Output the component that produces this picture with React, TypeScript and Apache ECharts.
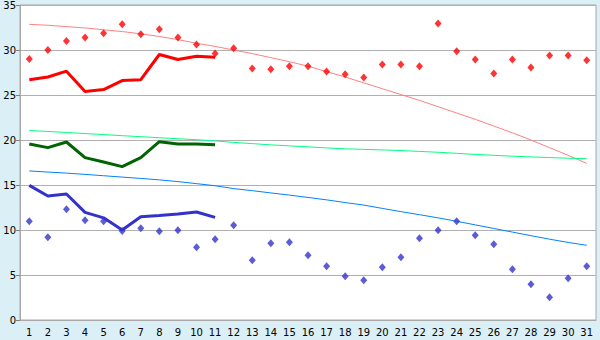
import React, { useEffect, useRef } from "react";
import * as echarts from "echarts";

const days = Array.from({ length: 31 }, (_, i) => String(i + 1));

const maxPoints = [29.0, 30.0, 31.0, 31.4, 31.85, 32.85, 31.75, 32.3, 31.4, 30.6, 29.6, 30.2, 27.95, 27.85, 28.2, 28.2, 27.6, 27.3, 26.95, 28.4, 28.4, 28.2, 32.95, 29.85, 28.95, 27.4, 28.95, 28.05, 29.4, 29.4, 28.85];
const maxAvg = [26.7, 27.0, 27.65, 25.4, 25.6, 26.6, 26.7, 29.5, 28.95, 29.3, 29.2];
const maxTrend = [32.85, 32.75, 32.6, 32.45, 32.25, 32.05, 31.8, 31.5, 31.15, 30.75, 30.4, 30.0, 29.6, 29.15, 28.7, 28.2, 27.6, 27.0, 26.35, 25.7, 25.05, 24.4, 23.7, 23.0, 22.3, 21.55, 20.8, 20.0, 19.15, 18.3, 17.4];

const meanAvg = [19.56, 19.15, 19.78, 18.04, 17.56, 17.04, 18.04, 19.81, 19.56, 19.56, 19.48];
const meanTrend = [21.05, 20.95, 20.83, 20.72, 20.6, 20.48, 20.37, 20.25, 20.14, 20.03, 19.9, 19.73, 19.6, 19.46, 19.35, 19.24, 19.12, 19.02, 18.96, 18.9, 18.83, 18.73, 18.64, 18.52, 18.4, 18.3, 18.2, 18.12, 18.05, 17.98, 17.92];

const minPoints = [10.96, 9.19, 12.3, 11.07, 10.96, 9.9, 10.2, 9.85, 9.96, 8.07, 8.96, 10.52, 6.63, 8.52, 8.63, 7.19, 5.96, 4.85, 4.41, 5.85, 6.96, 9.07, 9.96, 10.96, 9.41, 8.41, 5.63, 3.96, 2.52, 4.63, 5.96];
const minAvg = [14.96, 13.78, 14.0, 11.96, 11.35, 10.0, 11.48, 11.6, 11.78, 12.0, 11.4];
const minTrend = [16.56, 16.44, 16.32, 16.18, 16.03, 15.88, 15.73, 15.57, 15.38, 15.15, 14.92, 14.6, 14.37, 14.12, 13.88, 13.62, 13.35, 13.05, 12.77, 12.4, 12.04, 11.7, 11.35, 10.97, 10.57, 10.17, 9.77, 9.37, 8.98, 8.62, 8.3];

const yTicks = { min: 0, max: 35, interval: 5 };

export default function App() {
  const ref = useRef<HTMLDivElement>(null);
  useEffect(() => {
    if (!ref.current) return;
    const chart = echarts.init(ref.current, null, { renderer: "svg" });
    const line = (data: number[], color: string, width: number, z: number) => ({
      type: "line",
      data,
      symbol: "none",
      lineStyle: { color, width },
      itemStyle: { color },
      z,
    });
    const scatter = (data: number[], color: string) => ({
      type: "scatter",
      data,
      symbol: "diamond",
      symbolSize: [7, 8],
      itemStyle: { color },
      z: 5,
    });
    chart.setOption({
      animation: false,
      backgroundColor: "#DAEFF6",
      grid: {
        left: 20,
        right: 4,
        top: 5,
        bottom: 20,
        show: true,
        backgroundColor: "#FFFFFF",
        borderColor: "#A8A8A8",
        borderWidth: 1,
      },
      xAxis: {
        type: "category",
        data: days,
        boundaryGap: true,
        axisLine: { lineStyle: { color: "#A8A8A8" } },
        axisTick: { alignWithLabel: true, length: 5, lineStyle: { color: "#000" } },
        axisLabel: { color: "#000", fontFamily: "DejaVu Sans", fontSize: 10, margin: 7, interval: 0 },
        splitLine: { show: false },
      },
      yAxis: {
        type: "value",
        min: yTicks.min,
        max: yTicks.max,
        interval: yTicks.interval,
        axisLine: { show: true, lineStyle: { color: "#A8A8A8" } },
        axisTick: { show: true, length: 4, lineStyle: { color: "#808080" } },
        axisLabel: { color: "#000", fontFamily: "DejaVu Sans", fontSize: 10, margin: 4 },
        splitLine: { lineStyle: { color: "#B0B0B0", width: 1 } },
      },
      series: [
        line(maxTrend, "#FF8080", 1, 2),
        line(meanTrend, "#00FF80", 1, 2),
        line(minTrend, "#0080FF", 1, 2),
        line(maxAvg, "#FF0000", 3, 3),
        line(meanAvg, "#006400", 3, 3),
        line(minAvg, "#3333CC", 3, 3),
        scatter(maxPoints, "#FF0000"),
        scatter(minPoints, "#3333CC"),
      ],
    });
    return () => chart.dispose();
  }, []);
  return <div ref={ref} style={{ width: 600, height: 340, position: "absolute", left: 0, top: 0 }} />;
}
